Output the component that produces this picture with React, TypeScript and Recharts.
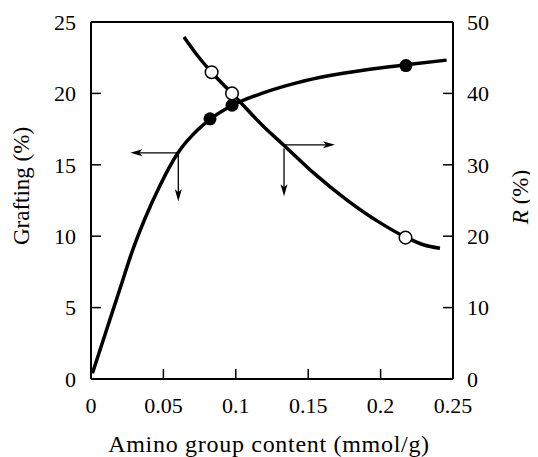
import React from 'react';
import { ComposedChart, Line, Scatter, XAxis, YAxis, ReferenceLine, ReferenceDot } from 'recharts';

const xTicks = [0, 0.05, 0.1, 0.15, 0.2, 0.25];
const graftTicks = [0, 5, 10, 15, 20, 25];
const rTicks = [0, 10, 20, 30, 40, 50];

const graftCurveX = [0.001, 0.0106, 0.0209, 0.0278, 0.037, 0.0474, 0.0601, 0.0739, 0.0827, 0.0974, 0.119, 0.142, 0.165, 0.188, 0.2175, 0.2456];
const graftCurveY = [0.4, 3.4, 6.6, 8.75, 11.17, 13.5, 15.84, 17.47, 18.22, 19.15, 20.04, 20.74, 21.25, 21.62, 22.0, 22.33];

const rCurveX = [0.0642, 0.0739, 0.0831, 0.0974, 0.119, 0.135, 0.1535, 0.1766, 0.1995, 0.2169, 0.2295, 0.241];
const rCurveY = [47.9, 45.2, 43.0, 40.0, 35.4, 32.4, 28.9, 25.1, 21.9, 19.9, 18.8, 18.3];

const graftPointX = [0.0822, 0.0974, 0.2175];
const graftPointY = [18.22, 19.17, 21.95];
const rPointX = [0.0833, 0.0974, 0.2172];
const rPointY = [42.97, 40.0, 19.8];

// arrow annotations: [startX, startY, horizontal tip X, vertical tip Y]
const graftArrow = [0.0603, 15.84, 0.0272, 12.45];
const rArrow = [0.1333, 32.8, 0.1685, 25.6];

const zip = (xs: number[], ys: number[]) => xs.map((x, i) => ({ x, y: ys[i] }));
const graftCurve = zip(graftCurveX, graftCurveY);
const rCurve = zip(rCurveX, rCurveY);
const graftPoints = zip(graftPointX, graftPointY);
const rPoints = zip(rPointX, rPointY);

const FONT = '"Liberation Serif", "Times New Roman", serif';

const headLeft = (p: any) => (
  <path d={`M${p.cx},${p.cy} L${p.cx + 12},${p.cy - 3.5} L${p.cx + 9},${p.cy} L${p.cx + 12},${p.cy + 3.5} Z`} fill="#000" />
);
const headRight = (p: any) => (
  <path d={`M${p.cx},${p.cy} L${p.cx - 12},${p.cy - 3.5} L${p.cx - 9},${p.cy} L${p.cx - 12},${p.cy + 3.5} Z`} fill="#000" />
);
const headDown = (p: any) => (
  <path d={`M${p.cx},${p.cy} L${p.cx - 3.5},${p.cy - 12} L${p.cx},${p.cy - 9} L${p.cx + 3.5},${p.cy - 12} Z`} fill="#000" />
);

const filledDot = (p: any) => <circle cx={p.cx} cy={p.cy} r={6.5} fill="#000" />;
const openDot = (p: any) => <circle cx={p.cx} cy={p.cy} r={6.3} fill="#fff" stroke="#000" strokeWidth={1.5} />;

const tickStyle = { fill: '#000', fontSize: 22, fontFamily: FONT };

export default function App() {
  return (
    <div style={{ width: 530, height: 449, fontFamily: FONT }}>
      <ComposedChart width={530} height={449} margin={{ top: 14, right: 0, bottom: 0, left: 0 }}>
        <XAxis
          dataKey="x"
          type="number"
          domain={[0, 0.25]}
          ticks={xTicks}
          height={78}
          tickSize={-10}
          tickMargin={28}
          tick={tickStyle}
          axisLine={{ stroke: '#000', strokeWidth: 2 }}
          tickLine={{ stroke: '#000', strokeWidth: 1.5 }}
          interval={0}
          label={{
            content: (props: any) => {
              const vb = props.viewBox;
              return (
                <text x={vb.x + vb.width / 2 - 3} y={vb.y + 72.5} textAnchor="middle" fontSize={24} letterSpacing={0.7} fontFamily={FONT} fill="#000">
                  Amino group content (mmol/g)
                </text>
              );
            },
          }}
        />
        <YAxis
          yAxisId="left"
          type="number"
          domain={[0, 25]}
          ticks={graftTicks}
          width={83}
          tickSize={-10}
          tickMargin={25}
          tick={tickStyle}
          axisLine={{ stroke: '#000', strokeWidth: 2 }}
          tickLine={{ stroke: '#000', strokeWidth: 1.5 }}
          interval={0}
          label={{
            content: (props: any) => {
              const vb = props.viewBox;
              const cx = vb.x + 20.5;
              const cy = 178;
              return (
                <text x={cx} y={cy} transform={`rotate(-90 ${cx} ${cy})`} textAnchor="middle" fontSize={23} fontFamily={FONT} fill="#000">
                  Grafting (%)
                </text>
              );
            },
          }}
        />
        <YAxis
          yAxisId="right"
          orientation="right"
          type="number"
          domain={[0, 50]}
          ticks={rTicks}
          width={85}
          tickSize={-10}
          tickMargin={24}
          tick={tickStyle}
          axisLine={{ stroke: '#000', strokeWidth: 2 }}
          tickLine={{ stroke: '#000', strokeWidth: 1.5 }}
          interval={0}
          label={{
            content: (props: any) => {
              const vb = props.viewBox;
              const cx = vb.x + 74.5;
              const cy = 189;
              return (
                <text x={cx} y={cy} transform={`rotate(-90 ${cx} ${cy})`} textAnchor="middle" fontSize={23} fontFamily={FONT} fill="#000">
                  <tspan fontStyle="italic">R</tspan> (%)
                </text>
              );
            },
          }}
        />
        <ReferenceLine yAxisId="left" y={25} stroke="#000" strokeWidth={2} />

        {/* arrows */}
        <ReferenceLine yAxisId="left" segment={[{ x: graftArrow[0], y: graftArrow[1] }, { x: graftArrow[2] + 0.004, y: graftArrow[1] }]} stroke="#000" strokeWidth={1.3} />
        <ReferenceLine yAxisId="left" segment={[{ x: graftArrow[0], y: graftArrow[1] }, { x: graftArrow[0], y: graftArrow[3] + 0.4 }]} stroke="#000" strokeWidth={1.3} />
        <ReferenceDot yAxisId="left" x={graftArrow[2]} y={graftArrow[1]} shape={headLeft} />
        <ReferenceDot yAxisId="left" x={graftArrow[0]} y={graftArrow[3]} shape={headDown} />

        <ReferenceLine yAxisId="right" segment={[{ x: rArrow[0], y: rArrow[1] }, { x: rArrow[2] - 0.004, y: rArrow[1] }]} stroke="#000" strokeWidth={1.3} />
        <ReferenceLine yAxisId="right" segment={[{ x: rArrow[0], y: rArrow[1] - 0.5 }, { x: rArrow[0], y: rArrow[3] + 0.8 }]} stroke="#000" strokeWidth={1.3} />
        <ReferenceDot yAxisId="right" x={rArrow[2]} y={rArrow[1]} shape={headRight} />
        <ReferenceDot yAxisId="right" x={rArrow[0]} y={rArrow[3]} shape={headDown} />

        <Line yAxisId="left" data={graftCurve} dataKey="y" type="monotone" stroke="#000" strokeWidth={3.5} dot={false} activeDot={false} isAnimationActive={false} />
        <Line yAxisId="right" data={rCurve} dataKey="y" type="monotone" stroke="#000" strokeWidth={3.5} dot={false} activeDot={false} isAnimationActive={false} />
        <Scatter yAxisId="left" data={graftPoints} dataKey="y" shape={filledDot} isAnimationActive={false} />
        <Scatter yAxisId="right" data={rPoints} dataKey="y" shape={openDot} isAnimationActive={false} />
      </ComposedChart>
    </div>
  );
}
